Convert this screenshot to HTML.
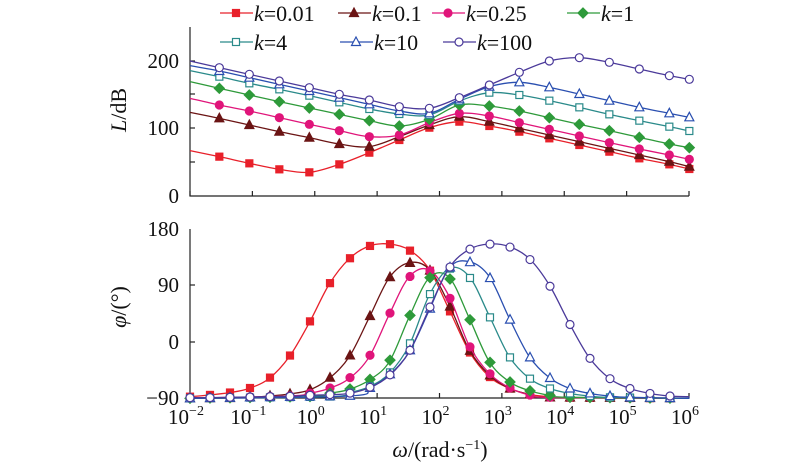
<!DOCTYPE html>
<html><head><meta charset="utf-8"><style>
html,body{margin:0;padding:0;background:#fff;width:800px;height:469px;overflow:hidden}
svg{display:block}
text{font-family:"Liberation Serif",serif;fill:#111}
</style></head><body>
<svg id="s" width="800" height="469" xmlns="http://www.w3.org/2000/svg">
<g stroke="#222" stroke-width="1.2" fill="none">
<path d="M190,27V196H689"/>
<path d="M190,229V398H689"/>
</g>
<g id="ticks" stroke="#222" stroke-width="1.2"></g>
<g font-size="21" text-anchor="end">
<text x="179" y="68">200</text><text x="179" y="135">100</text><text x="179" y="203">0</text>
<text x="179" y="236">180</text><text x="179" y="292">90</text><text x="179" y="349">0</text><text x="179" y="405">−90</text>
</g>
<text font-size="22" transform="translate(126,110) rotate(-90)" text-anchor="middle"><tspan font-style="italic">L</tspan>/dB</text>
<text font-size="22" transform="translate(126,307) rotate(-90)" text-anchor="middle"><tspan font-style="italic">φ</tspan>/(°)</text>
<g id="xl" font-size="21" text-anchor="middle"></g>
<text x="440" y="457" font-size="22" text-anchor="middle"><tspan font-style="italic">ω</tspan>/(rad·s<tspan dy="-8" font-size="14">−1</tspan><tspan dy="8">)</tspan></text>
<g id="curves"></g>
<g id="leg" font-size="22"></g>
</svg>
<script>
var NS="http://www.w3.org/2000/svg";
function el(t,a,p){var e=document.createElementNS(NS,t);for(var k in a)e.setAttribute(k,a[k]);p.appendChild(e);return e;}
var tk=document.getElementById("ticks"),xl=document.getElementById("xl");
for(var i=0;i<=8;i++){var x=190+i*62.375;
 el("line",{x1:x,y1:196,x2:x,y2:191},tk);el("line",{x1:x,y1:398,x2:x,y2:393},tk);
 var t=el("text",{x:x-4,y:424},xl);t.textContent="10";var s=el("tspan",{dy:-9,"font-size":14},t);s.textContent=(i-2<0?"−"+(2-i):""+(i-2));}
[61,94,128,162].forEach(function(y){el("line",{x1:190,y1:y,x2:195,y2:y},tk);});
[285,342].forEach(function(y){el("line",{x1:190,y1:y,x2:195,y2:y},tk);});
var xs=[30,118,208,298,388,478,568,658,748,838,928,1018,1108,1198,1288,1378,1468,1528];
var C=[
{c:"#e8202a",m:"sq",f:1,top:[452,470,490,508,517,493,458,420,383,365,378,395,415,435,455,475,493,507],
 bot:[[30,560],[88,555],[148,548],[208,535],[268,505],[328,440],[388,338],[448,222],[508,146],[568,108],[628,102],[688,120],[748,178],[808,300],[868,425],[928,500],[988,535],[1048,553],[1108,560],[1168,563],[1528,565]]},
{c:"#6b1414",m:"tri",f:1,top:[337,355,375,395,413,432,440,410,375,350,365,385,405,425,445,465,485,500],
 bot:[[30,565],[148,564],[208,562],[268,558],[328,552],[388,540],[448,505],[508,440],[568,322],[628,203],[688,158],[748,178],[808,285],[868,420],[928,495],[988,535],[1048,553],[1108,562],[1528,565]]},
{c:"#e0157a",m:"ci",f:1,top:[295,315,333,353,373,392,410,405,368,340,348,368,388,408,428,447,465,478],
 bot:[[30,565],[328,558],[388,550],[448,535],[508,505],[568,440],[628,313],[688,200],[748,180],[808,260],[868,408],[928,490],[988,533],[1048,555],[1108,562],[1528,565]]},
{c:"#2e9a3a",m:"dia",f:1,top:[245,265,285,305,324,343,362,378,358,315,318,333,353,373,392,412,432,443],
 bot:[[30,565],[388,560],[448,550],[508,538],[568,510],[628,455],[688,320],[748,203],[808,203],[868,325],[928,455],[988,515],[1048,542],[1108,556],[1168,562],[1528,565]]},
{c:"#2a8a8a",m:"sq",f:0,top:[212,230,250,268,287,307,327,342,345,303,278,285,302,322,343,362,380,393],
 bot:[[30,565],[448,560],[508,548],[568,530],[628,490],[688,405],[748,255],[808,175],[868,200],[928,318],[988,440],[1048,505],[1108,535],[1168,550],[1228,558],[1288,562],[1528,565]]},
{c:"#2a4fb0",m:"tri",f:0,top:[197,213,233,253,273,293,313,333,340,298,260,247,262,282,302,322,340,352],
 bot:[[30,565],[508,558],[568,535],[628,495],[688,425],[748,300],[808,173],[868,155],[928,200],[988,325],[1048,440],[1108,503],[1168,535],[1228,550],[1288,558],[1348,562],[1528,565]]},
{c:"#4b3a9a",m:"ci",f:0,top:[183,203,223,243,263,283,300,320,325,293,255,217,183,173,187,207,227,238],
 bot:[[30,563],[88,563],[148,562],[208,561],[268,560],[328,559],[388,556],[448,554],[508,550],[568,533],[628,497],[688,425],[748,295],[808,173],[868,118],[928,102],[988,110],[1048,146],[1108,225],[1168,340],[1228,443],[1288,505],[1348,535],[1408,550],[1468,558],[1528,560]]}
];
function cr(p){var d="M"+p[0][0]+","+p[0][1];for(var i=0;i<p.length-1;i++){var a=p[i-1]||p[i],b=p[i],c=p[i+1],e=p[i+2]||c;
 d+="C"+(b[0]+(c[0]-a[0])/6)+","+(b[1]+(c[1]-a[1])/6)+" "+(c[0]-(e[0]-b[0])/6)+","+(c[1]-(e[1]-b[1])/6)+" "+c[0]+","+c[1];}return d;}
function mk(m,x,y,c,f,g){var fill=f?c:"#fff",a={fill:fill,stroke:c,"stroke-width":1.2};
 if(m=="sq"){a.x=x-3.5;a.y=y-3.5;a.width=7;a.height=7;el("rect",a,g);}
 else if(m=="ci"){a.cx=x;a.cy=y;a.r=4;el("circle",a,g);}
 else if(m=="tri"){a.points=(x)+","+(y-5)+" "+(x-4.5)+","+(y+3.5)+" "+(x+4.5)+","+(y+3.5);el("polygon",a,g);}
 else {a.points=(x)+","+(y-5)+" "+(x+5)+","+y+" "+x+","+(y+5)+" "+(x-5)+","+y;el("polygon",a,g);}}
var g=document.getElementById("curves");
C.forEach(function(s){
 var tp=xs.map(function(x,i){return [x/3+180,s.top[i]/3];});
 el("path",{d:cr(tp),fill:"none",stroke:s.c,"stroke-width":1.3},g);
 tp.slice(1).forEach(function(p){mk(s.m,p[0],p[1],s.c,s.f,g);});
 var bp=s.bot.map(function(p){return [p[0]/3+180,p[1]/3+210];});
 el("path",{d:cr(bp),fill:"none",stroke:s.c,"stroke-width":1.3},g);
 for(var x=30;x<=1528;x+=60){
  var X=x/3+180;for(var i=0;i<bp.length-1;i++){if(bp[i][0]<=X&&bp[i+1][0]>=X){var t=(X-bp[i][0])/(bp[i+1][0]-bp[i][0]);var Y=bp[i][1]+t*(bp[i+1][1]-bp[i][1]);mk(s.m,X,Y,s.c,s.f,g);break;}}}
});
var L=document.getElementById("leg");
var items=[[220,13,0,"0.01"],[338,13,1,"0.1"],[432,13,2,"0.25"],[567,13,3,"1"],[220,42,4,"4"],[340,42,5,"10"],[443,42,6,"100"]];
items.forEach(function(it){var s=C[it[2]];el("line",{x1:it[0],y1:it[1],x2:it[0]+33,y2:it[1],stroke:s.c,"stroke-width":1.3},L);
 mk(s.m,it[0]+16,it[1],s.c,s.f,L);var t=el("text",{x:it[0]+34,y:it[1]+8},L);
 var k=el("tspan",{"font-style":"italic"},t);k.textContent="k";var r=el("tspan",{},t);r.textContent="="+it[3];});
</script>
</body></html>
